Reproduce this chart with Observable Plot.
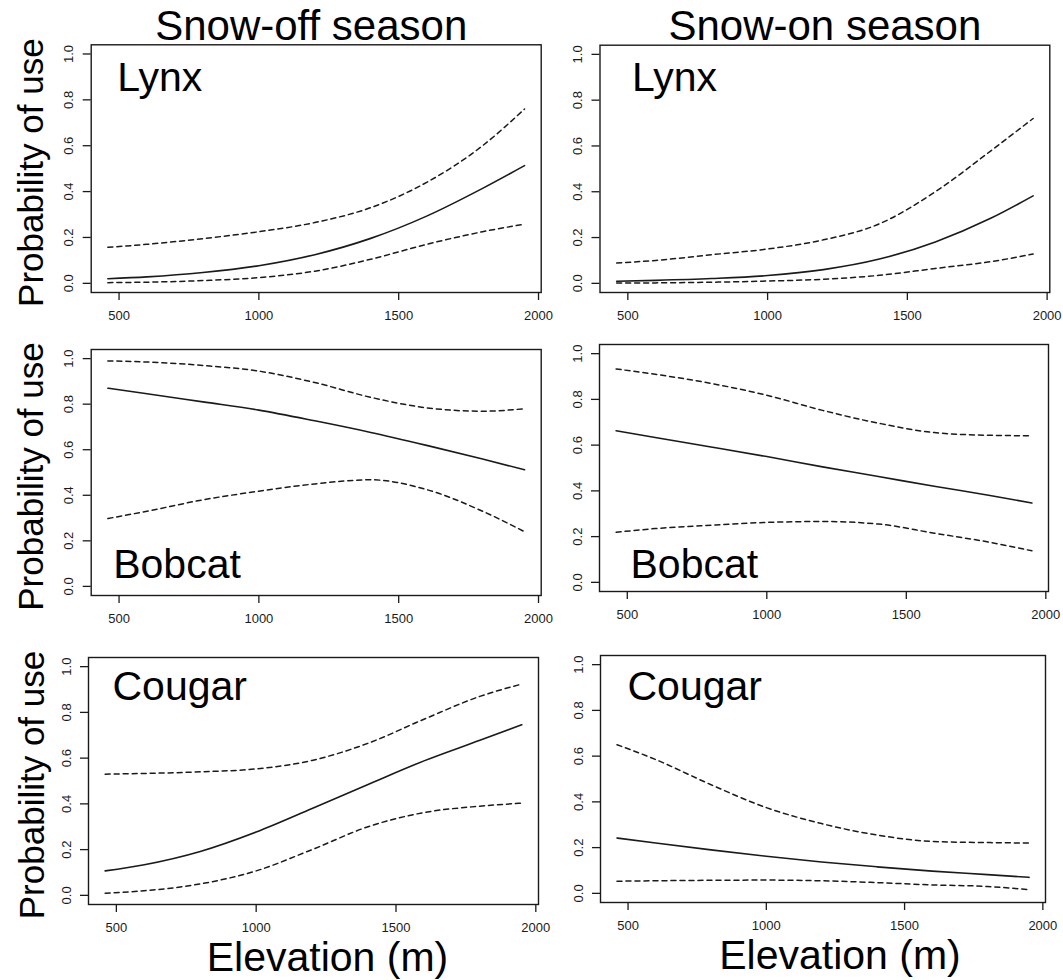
<!DOCTYPE html>
<html>
<head>
<meta charset="utf-8">
<script src="https://cdn.jsdelivr.net/npm/d3@7"></script>
<script src="https://cdn.jsdelivr.net/npm/@observablehq/plot@0.6"></script>
<style>
  body { margin: 0; background: #fff; }
  #fig { position: relative; width: 1063px; height: 980px; background: #fff; overflow: hidden; }
  #fig svg { position: absolute; overflow: visible; }
</style>
</head>
<body>
<div id="fig"></div>
<script>
// Elevation (m) at which the fitted curves are sampled
const elevation = [460, 600, 800, 1000, 1200, 1400, 1600, 1800, 1950];

const seasons = ["Snow-off season", "Snow-on season"];
const species = ["Lynx", "Bobcat", "Cougar"];
const xTicks = [500, 1000, 1500, 2000];
const yTicks = [0, 0.2, 0.4, 0.6, 0.8, 1.0];
const xAxisTitle = "Elevation (m)";
const yAxisTitle = "Probability of use";

// Fitted probability of use with lower / upper confidence bounds
const lynxOffFit   = [0.020, 0.028, 0.047, 0.077, 0.125, 0.196, 0.293, 0.414, 0.513];
const lynxOffLow   = [0.003, 0.005, 0.012, 0.025, 0.053, 0.105, 0.170, 0.225, 0.258];
const lynxOffHigh  = [0.157, 0.170, 0.195, 0.225, 0.265, 0.330, 0.440, 0.600, 0.760];

const lynxOnFit    = [0.009, 0.013, 0.021, 0.034, 0.060, 0.106, 0.181, 0.285, 0.382];
const lynxOnLow    = [0.001, 0.002, 0.005, 0.010, 0.018, 0.035, 0.065, 0.095, 0.128];
const lynxOnHigh   = [0.089, 0.100, 0.125, 0.150, 0.190, 0.260, 0.400, 0.580, 0.720];

const bobcatOffFit  = [0.870, 0.846, 0.810, 0.774, 0.727, 0.676, 0.619, 0.559, 0.512];
const bobcatOffLow  = [0.298, 0.330, 0.380, 0.418, 0.450, 0.468, 0.425, 0.330, 0.240];
const bobcatOffHigh = [0.990, 0.985, 0.970, 0.945, 0.895, 0.830, 0.784, 0.769, 0.780];

const bobcatOnFit   = [0.663, 0.633, 0.592, 0.550, 0.505, 0.463, 0.420, 0.380, 0.347];
const bobcatOnLow   = [0.219, 0.235, 0.250, 0.262, 0.266, 0.255, 0.215, 0.175, 0.138];
const bobcatOnHigh  = [0.933, 0.910, 0.870, 0.818, 0.752, 0.696, 0.655, 0.643, 0.641];

const cougarOffFit  = [0.107, 0.134, 0.192, 0.277, 0.380, 0.485, 0.588, 0.678, 0.746];
const cougarOffLow  = [0.009, 0.020, 0.050, 0.107, 0.200, 0.300, 0.362, 0.390, 0.403];
const cougarOffHigh = [0.530, 0.533, 0.540, 0.553, 0.590, 0.665, 0.770, 0.870, 0.924];

const cougarOnFit   = [0.242, 0.220, 0.190, 0.162, 0.137, 0.116, 0.097, 0.082, 0.070];
const cougarOnLow   = [0.053, 0.055, 0.057, 0.058, 0.055, 0.047, 0.037, 0.030, 0.016];
const cougarOnHigh  = [0.650, 0.585, 0.475, 0.375, 0.305, 0.255, 0.227, 0.222, 0.220];

const curves = [
  [[lynxOffFit, lynxOffLow, lynxOffHigh], [lynxOnFit, lynxOnLow, lynxOnHigh]],
  [[bobcatOffFit, bobcatOffLow, bobcatOffHigh], [bobcatOnFit, bobcatOnLow, bobcatOnHigh]],
  [[cougarOffFit, cougarOffLow, cougarOffHigh], [cougarOnFit, cougarOnLow, cougarOnHigh]]
];

// Panel layout: svg box [left, top, width, height] and plot frame [x0, y0, x1, y1]
const panels = [
  {row: 0, col: 0, box: [0, 0, 545, 330],   frame: [90.7, 44.3, 540.7, 292], label: "top",    ldx: 26, ldy: 17},
  {row: 0, col: 1, box: [545, 0, 518, 330], frame: [599.5, 44.7, 1049.3, 292], label: "top",  ldx: 32, ldy: 17},
  {row: 1, col: 0, box: [0, 330, 545, 300], frame: [90.7, 349, 540.7, 595], label: "bottom",   ldx: 22, ldy: -18},
  {row: 1, col: 1, box: [545, 330, 518, 300], frame: [599, 344, 1048, 591], label: "bottom",   ldx: 31, ldy: -14},
  {row: 2, col: 0, box: [0, 630, 545, 350], frame: [88, 657, 538, 904], label: "top",          ldx: 24, ldy: 13},
  {row: 2, col: 1, box: [545, 630, 518, 350], frame: [600, 655, 1045, 902], label: "top",      ldx: 27, ldy: 15}
];

const font = "'Liberation Sans', Arial, Helvetica, sans-serif";
const ink = "#1a1a1a";
const fig = document.getElementById("fig");

for (const p of panels) {
  const [bl, bt, bw, bh] = p.box;
  const [x0, y0, x1, y1] = p.frame;
  const [fit, low, high] = curves[p.row][p.col];
  const rows = elevation.map((e, i) => ({elev: e, fit: fit[i], low: low[i], high: high[i]}));

  const marks = [
    Plot.frame({stroke: ink, strokeWidth: 1.4}),
    Plot.axisX({ticks: xTicks, tickSize: 8, tickPadding: 10, tickFormat: d => String(d),
      fontSize: 13, strokeWidth: 1.3, stroke: ink, fill: ink}),
    Plot.axisY({ticks: yTicks, tickSize: 8, tickPadding: 10, tickRotate: -90,
      tickFormat: d => d.toFixed(1), fontSize: 13, strokeWidth: 1.3, stroke: ink, fill: ink}),
    Plot.line(rows, {x: "elev", y: "high", curve: "monotone-x", stroke: ink, strokeWidth: 1.5, strokeDasharray: "5,4"}),
    Plot.line(rows, {x: "elev", y: "low", curve: "monotone-x", stroke: ink, strokeWidth: 1.5, strokeDasharray: "5,4"}),
    Plot.line(rows, {x: "elev", y: "fit", curve: "monotone-x", stroke: ink, strokeWidth: 1.6}),
    Plot.text([species[p.row]], {
      frameAnchor: p.label === "top" ? "top-left" : "bottom-left",
      lineAnchor: p.label === "top" ? "top" : "bottom",
      textAnchor: "start", dx: p.ldx, dy: p.ldy, fontSize: 41, fill: "#000"
    })
  ];

  // season heading above the first row
  if (p.row === 0) {
    marks.push(Plot.text([seasons[p.col]], {
      frameAnchor: "top", lineAnchor: "bottom", dy: -5, dx: p.col === 0 ? -5 : 0,
      fontSize: 42, fill: "#000"
    }));
  }
  // elevation title under the last row
  if (p.row === 2) {
    marks.push(Plot.text([xAxisTitle], {
      frameAnchor: "bottom", lineAnchor: "bottom", dy: 66, dx: p.col === 0 ? 14 : 17,
      fontSize: 41, fill: "#000"
    }));
  }
  // y title beside the left column
  if (p.col === 0) {
    marks.push(Plot.text([yAxisTitle], {
      frameAnchor: "left", rotate: -90, textAnchor: "middle", lineAnchor: "bottom",
      dx: -(x0 - 43), dy: 4, fontSize: 35, fill: "#000"
    }));
  }

  const chart = Plot.plot({
    width: bw,
    height: bh,
    marginLeft: x0 - bl,
    marginRight: bl + bw - x1,
    marginTop: y0 - bt,
    marginBottom: bt + bh - y1,
    x: {domain: [400.4, 2009.6], label: null},
    y: {domain: [-0.04, 1.04], label: null},
    style: {fontFamily: font, background: "transparent", color: ink, overflow: "visible"},
    marks
  });
  chart.style.left = bl + "px";
  chart.style.top = bt + "px";
  fig.appendChild(chart);
}
</script>
</body>
</html>
